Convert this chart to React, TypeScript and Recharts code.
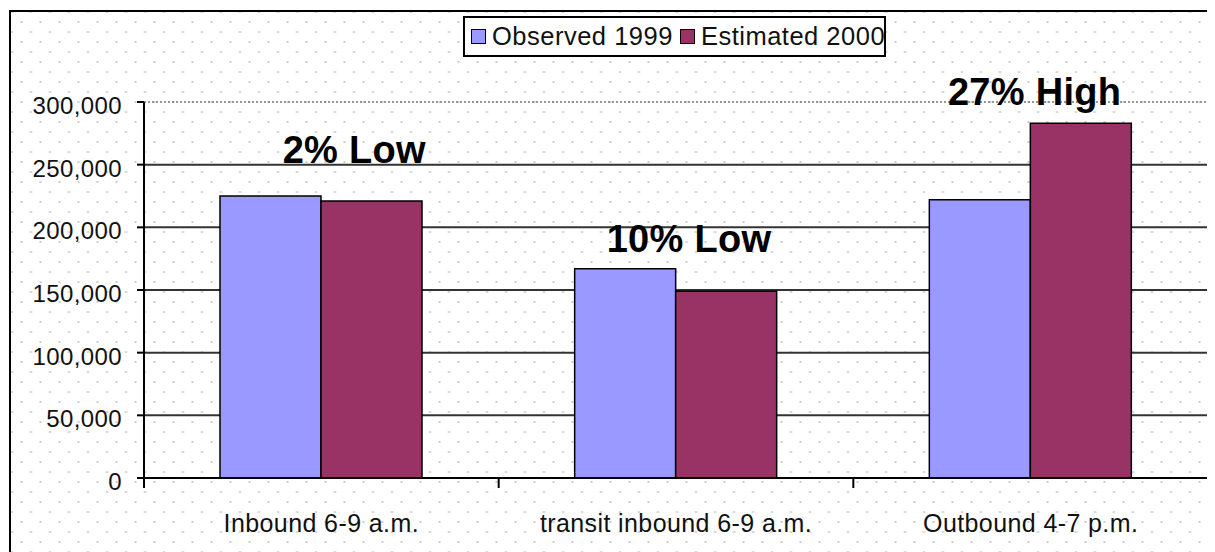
import React from 'react';
import { BarChart, Bar, XAxis, YAxis, CartesianGrid, ReferenceDot } from 'recharts';

const categories = ['Inbound 6-9 a.m.', 'transit inbound 6-9 a.m.', 'Outbound 4-7 p.m.'];
const observed1999 = [225000, 167000, 222000];
const estimated2000 = [221000, 149000, 283000];
const yTicks = [0, 50000, 100000, 150000, 200000, 250000, 300000];
const seriesNames = ['Observed 1999', 'Estimated 2000'];
const annotationTexts = ['2% Low', '10% Low', '27% High'];
const annotationValues = [251000, 180000, 297500];
const annotationShift = [33, 13, 4];

const data = categories.map((c, i) => ({
  category: c,
  observed: observed1999[i],
  estimated: estimated2000[i],
}));

const FONT = '"Liberation Sans", Arial, sans-serif';
const COLORS = ['#9999FF', '#993366'];
const yMax = yTicks[yTicks.length - 1];

const YTick = (props: any) => {
  const { x, y, payload } = props;
  return (
    <text x={x} y={y + 12} textAnchor="end" fontFamily={FONT} fontSize={24} letterSpacing={0.4} fill="#111">
      {Number(payload.value).toLocaleString('en-US')}
    </text>
  );
};

const XTick = (props: any) => {
  const { x, y, payload, index, width } = props;
  const half =
    typeof payload.offset === 'number' && payload.offset > 0
      ? payload.offset
      : width / categories.length / 2;
  const axisY = y - 8;
  return (
    <g>
      <line x1={x - half} x2={x - half} y1={axisY} y2={axisY + 10} stroke="#000" strokeWidth={2} />
      {index === categories.length - 1 && (
        <line x1={x + half} x2={x + half} y1={axisY} y2={axisY + 10} stroke="#000" strokeWidth={2} />
      )}
      <text x={x} y={axisY + 54} textAnchor="middle" fontFamily={FONT} fontSize={25} letterSpacing={0.4} fill="#111">
        {payload.value}
      </text>
    </g>
  );
};

const makeLabel = (i: number) => (props: any) => {
  const { cx, cy } = props;
  return (
    <text
      x={cx + annotationShift[i]}
      y={cy}
      textAnchor="middle"
      fontFamily={FONT}
      fontWeight="bold"
      fontSize={38}
      letterSpacing={0.3}
      fill="#000"
    >
      {annotationTexts[i]}
    </text>
  );
};

const gridRows = (p: any) => {
  const sc = p && p.yAxis && typeof p.yAxis.scale === 'function' ? p.yAxis.scale : null;
  return yTicks
    .slice(1, -1)
    .map((v) => (sc ? sc(v) : p.offset.top + p.offset.height * (1 - v / yMax)));
};

export default function App() {
  return (
    <div
      style={{
        position: 'relative',
        width: 1207,
        height: 544,
        overflow: 'hidden',
        backgroundColor: '#fff',
        backgroundImage:
          'radial-gradient(circle, #cfcfcf 0.9px, transparent 1.4px), radial-gradient(circle, #cfcfcf 0.9px, transparent 1.4px)',
        backgroundSize: '19px 20px',
        backgroundPosition: '4px 4px, 13.5px 14px',
      }}
    >
      <style>{'html,body{overflow:hidden}'}</style>
      <div
        style={{
          position: 'absolute',
          left: 1,
          top: 2,
          width: 3000,
          height: 3000,
          borderLeft: '2px solid #000',
          borderTop: '2px solid #000',
          boxSizing: 'border-box',
        }}
      />
      <div style={{ position: 'absolute', left: 0, top: 0 }}>
        <BarChart
          width={1207}
          height={544}
          data={data}
          margin={{ top: 94, right: 7, left: 0, bottom: 34 }}
          barGap={0}
          barSize={101}
        >
          <CartesianGrid
            vertical={false}
            stroke="#333"
            strokeWidth={2}
            horizontalCoordinatesGenerator={gridRows}
          />
          <CartesianGrid
            stroke="#777"
            strokeWidth={1.5}
            strokeDasharray="2 2"
            horizontalCoordinatesGenerator={(p: any) => [p.offset.top]}
            verticalCoordinatesGenerator={(p: any) => [p.offset.left + p.offset.width]}
          />
          <XAxis
            dataKey="category"
            height={40}
            axisLine={{ stroke: '#000', strokeWidth: 2 }}
            tickLine={false}
            tickSize={8}
            tickMargin={0}
            tick={<XTick />}
            interval={0}
          />
          <YAxis
            width={136}
            domain={[0, yMax]}
            ticks={yTicks}
            axisLine={{ stroke: '#000', strokeWidth: 2 }}
            tickLine={{ stroke: '#000', strokeWidth: 2 }}
            tickSize={7}
            tickMargin={15}
            tick={<YTick />}
            interval={0}
          />
          <Bar
            dataKey="observed"
            name={seriesNames[0]}
            fill={COLORS[0]}
            stroke="#000"
            strokeWidth={1.5}
            isAnimationActive={false}
          />
          <Bar
            dataKey="estimated"
            name={seriesNames[1]}
            fill={COLORS[1]}
            stroke="#000"
            strokeWidth={1.5}
            isAnimationActive={false}
          />
          {categories.map((c, i) => (
            <ReferenceDot
              key={c}
              x={c}
              y={annotationValues[i]}
              r={1}
              fill="none"
              stroke="none"
              ifOverflow="visible"
              shape={makeLabel(i)}
            />
          ))}
        </BarChart>
      </div>
      <div
        style={{
          position: 'absolute',
          left: 455,
          top: 8,
          width: 423,
          height: 41,
          boxSizing: 'border-box',
          border: '2px solid #000',
          background: '#fff',
          display: 'flex',
          alignItems: 'center',
          paddingLeft: 6,
          fontFamily: FONT,
          fontSize: 25.5,
          letterSpacing: 0.5,
          color: '#111',
          whiteSpace: 'nowrap',
        }}
      >
        {seriesNames.map((n, i) => (
          <span key={n} style={{ display: 'inline-flex', alignItems: 'center', marginRight: i === 0 ? 7 : 0 }}>
            <span
              style={{
                display: 'inline-block',
                width: 13,
                height: 13,
                background: COLORS[i],
                border: '1.5px solid #000',
                marginRight: 6,
              }}
            />
            {n}
          </span>
        ))}
      </div>
    </div>
  );
}
